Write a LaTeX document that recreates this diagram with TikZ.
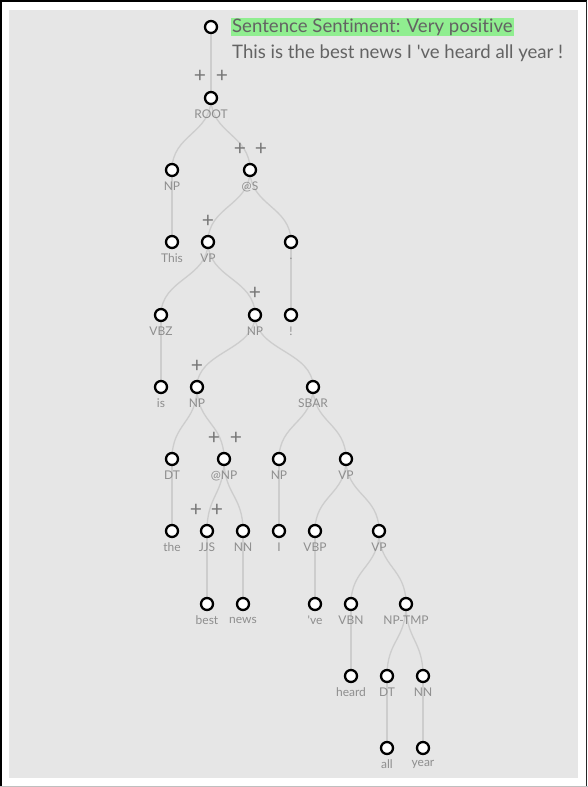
\documentclass[tikz,border=0pt]{standalone}
\usepackage{fontspec}
\setmainfont{Lato}[Ligatures={TeX,NoCommon}]
\usetikzlibrary{calc}
\definecolor{bgc}{HTML}{E6E6E6}
\definecolor{edgec}{HTML}{CDCDCD}
\definecolor{lblc}{HTML}{8E8E8E}
\definecolor{plusc}{HTML}{777777}
\definecolor{hl}{HTML}{90EE90}
\definecolor{txtc}{HTML}{636363}
\pgfdeclarelayer{bgl}
\pgfdeclarelayer{edgel}
\pgfsetlayers{bgl,edgel,main}
\tikzset{
  tn/.style={circle, draw=black, fill=white, line width=2.3pt, minimum size=12pt, inner sep=0pt},
  lbl/.style={text=lblc, font=\fontsize{12}{13}\selectfont, inner sep=0pt},
  edge/.style={draw=edgec, line width=1.3pt},
  plus/.style={text=plusc, font=\fontsize{21}{21}\selectfont, inner sep=0pt},
  head/.style={anchor=west, text=txtc, font=\fontsize{18.6}{21}\selectfont, inner xsep=1pt, inner ysep=0.5pt}
}
\newcommand\tnode[4]{\node[tn] (#1) at (#2,#3) {}; \node[lbl] (#1l) at (#2,#3+16.5) {#4};}
\newcommand\lk[2]{\coordinate (mid) at ($(#1)!.5!(#2)$); \draw[edge] (#1.center) .. controls (#1 |- mid) and (#2 |- mid) .. (#2.center);}
\newcommand\pl[3]{\node[plus] (#1) at (#2,#3) {+};}
\begin{document}
\begin{tikzpicture}[x=1pt,y=-1pt]
\useasboundingbox (0,0) rectangle (588,787);
\begin{pgfonlayer}{bgl}
\fill[white] (0,0) rectangle (588,787);
\fill[bgc] (9,10) rectangle (578,778);
\draw[black, line width=1.5pt] (0.75,787) -- (0.75,1) -- (587,1);
\draw[black!85, line width=1.5pt] (586.5,1) -- (586.5,787);
\draw[black!25, line width=1pt] (0,786) -- (588,786);
\end{pgfonlayer}
% header
\node[head, fill=hl] (title) at (231,27) {Sentence Sentiment: Very positive};
\node[head] (sent) at (231,53.5) {This is the best news I \textquotesingle ve heard all year !};
% nodes
\node[tn] (top) at (211,27) {};
\tnode{root}{211}{98}{ROOT}
\tnode{npa}{172}{170}{NP}
\tnode{ats}{250}{170}{@S}
\tnode{this}{172}{242}{This}
\tnode{vpa}{208}{242}{VP}
\tnode{dot}{291}{242}{.}
\tnode{vbz}{161}{315}{VBZ}
\tnode{npb}{255}{315}{NP}
\tnode{excl}{291}{315}{!}
\tnode{is}{161}{387}{is}
\tnode{npc}{197}{387}{NP}
\tnode{sbar}{313}{387}{SBAR}
\tnode{dta}{172}{459}{DT}
\tnode{atnp}{224}{459}{@NP}
\tnode{npd}{279}{459}{NP}
\tnode{vpb}{346}{459}{VP}
\tnode{the}{172}{531}{the}
\tnode{jjs}{207}{531}{JJS}
\tnode{nna}{243}{531}{NN}
\tnode{iw}{279}{531}{I}
\tnode{vbp}{315}{531}{VBP}
\tnode{vpc}{379}{531}{VP}
\tnode{best}{207}{604}{best}
\tnode{news}{243}{604}{news}
\tnode{ve}{315}{604}{\textquotesingle ve}
\tnode{vbn}{351}{604}{VBN}
\tnode{nptmp}{406}{604}{NP-TMP}
\tnode{heard}{351}{676}{heard}
\tnode{dtb}{387}{676}{DT}
\tnode{nnb}{423}{676}{NN}
\tnode{all}{387}{748}{all}
\tnode{year}{423}{748}{year}
% plus marks
\pl{p1}{200}{76}\pl{p2}{222}{76}
\pl{p3}{240}{149}\pl{p4}{261}{149}
\pl{p5}{208}{221}
\pl{p6}{255}{293}
\pl{p7}{197}{366}
\pl{p8}{214}{438}\pl{p9}{236}{438}
\pl{p10}{196}{510}\pl{p11}{217}{510}
% edges
\begin{pgfonlayer}{edgel}
\lk{top}{root}
\lk{root}{npa}\lk{root}{ats}
\lk{npa}{this}
\lk{ats}{vpa}\lk{ats}{dot}
\lk{vpa}{vbz}\lk{vpa}{npb}
\lk{dot}{excl}
\lk{vbz}{is}
\lk{npb}{npc}\lk{npb}{sbar}
\lk{npc}{dta}\lk{npc}{atnp}
\lk{sbar}{npd}\lk{sbar}{vpb}
\lk{dta}{the}
\lk{atnp}{jjs}\lk{atnp}{nna}
\lk{npd}{iw}
\lk{vpb}{vbp}\lk{vpb}{vpc}
\lk{jjs}{best}
\lk{nna}{news}
\lk{vbp}{ve}
\lk{vpc}{vbn}\lk{vpc}{nptmp}
\lk{vbn}{heard}
\lk{nptmp}{dtb}\lk{nptmp}{nnb}
\lk{dtb}{all}
\lk{nnb}{year}
\end{pgfonlayer}
\end{tikzpicture}
\end{document}
